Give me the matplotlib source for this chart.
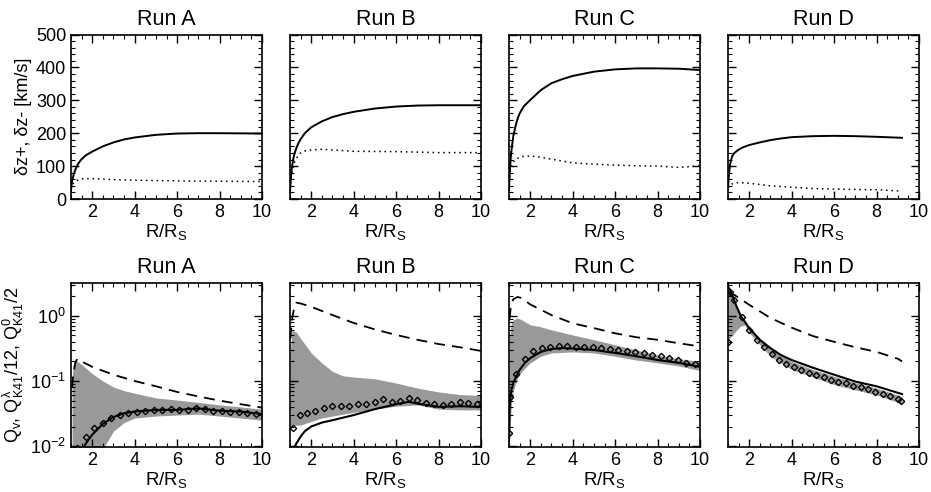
import matplotlib
matplotlib.use('Agg')
import matplotlib.pyplot as plt
from matplotlib.ticker import MultipleLocator, LogLocator, NullFormatter, LogFormatterMathtext

plt.rcParams.update({
    'font.family': ['Liberation Sans', 'DejaVu Sans'],
    'mathtext.fontset': 'custom',
    'mathtext.rm': 'Liberation Sans',
    'mathtext.it': 'Liberation Sans',
    'mathtext.bf': 'Liberation Sans:bold',
    'mathtext.default': 'regular',
    'axes.linewidth': 1.2,
})

RUNS = ['Run A', 'Run B', 'Run C', 'Run D']

# ---- top row: dz+ (solid) and dz- (dotted), km/s ----
A_zp_x = [1.0, 1.02, 1.05, 1.1, 1.15, 1.2, 1.3, 1.4, 1.5, 1.7, 2, 2.5, 3, 3.5, 4, 5, 6, 7, 8, 10]
A_zp_y = [25, 40, 55, 68, 80, 88, 103, 113, 121, 133, 144, 160, 172, 181, 187, 195, 199, 200, 200, 199]
A_zm_x = [1.0, 1.05, 1.1, 1.2, 1.3, 1.5, 1.7, 2, 3, 4, 6, 8, 10]
A_zm_y = [30, 40, 47, 53, 57, 61, 62, 62, 59, 57, 55, 54, 53]

B_zp_x = [1.0, 1.02, 1.05, 1.1, 1.15, 1.2, 1.3, 1.4, 1.5, 1.7, 2, 2.5, 3, 3.5, 4, 5, 6, 7, 8, 10]
B_zp_y = [20, 45, 70, 100, 120, 135, 155, 170, 182, 200, 218, 236, 249, 258, 265, 275, 281, 284, 285, 285]
B_zm_x = [1.0, 1.05, 1.1, 1.2, 1.3, 1.5, 1.7, 2, 2.5, 3, 4, 6, 8, 10]
B_zm_y = [30, 60, 85, 109, 124, 140, 146, 149, 151, 149, 145, 144, 141, 141]

C_zp_x = [1.0, 1.02, 1.05, 1.1, 1.15, 1.2, 1.3, 1.4, 1.5, 1.7, 2, 2.5, 3, 3.5, 4, 5, 6, 7, 8, 9, 10]
C_zp_y = [27, 60, 98, 139, 165, 190, 220, 243, 260, 282, 301, 331, 352, 364, 374, 387, 394, 397, 397, 396, 392]
C_zm_x = [1.0, 1.05, 1.1, 1.2, 1.3, 1.6, 2, 2.5, 3, 4, 5, 6, 7, 8, 9, 10]
C_zm_y = [50, 80, 98, 112, 121, 129, 131, 127, 121, 110, 106, 103, 101, 100, 96, 101]

D_zp_x = [1.0, 1.02, 1.05, 1.1, 1.15, 1.2, 1.3, 1.5, 1.7, 2, 2.5, 3, 3.5, 4, 5, 6, 7, 8, 9.2]
D_zp_y = [30, 55, 78, 105, 120, 130, 140, 150, 157, 164, 172, 179, 184, 188, 191, 192, 191, 189, 186]
D_zm_x = [1.0, 1.1, 1.2, 1.5, 2, 3, 4, 5, 6, 7, 8, 9.2]
D_zm_y = [33, 42, 46, 50, 48, 40, 36, 32, 30, 29, 28, 24]

# ---- bottom row: Q_v (solid), Q_K41 (diamonds, dashed), spread (gray band) ----
A_dash_x = [1.05, 1.1, 1.2, 1.3, 1.5, 2, 3, 4, 5, 6, 7, 8, 9, 10]
A_dash_y = [0.08, 0.12, 0.19, 0.22, 0.20, 0.165, 0.125, 0.10, 0.083, 0.068, 0.058, 0.050, 0.044, 0.039]
A_band_x = [1.05, 1.1, 1.2, 1.3, 1.5, 2, 2.5, 3, 3.5, 4, 5, 6, 7, 8, 9, 10]
A_band_hi = [0.10, 0.17, 0.21, 0.20, 0.18, 0.13, 0.10, 0.081, 0.071, 0.065, 0.055, 0.051, 0.047, 0.043, 0.040, 0.037]
A_band_lo = [0.005, 0.005, 0.005, 0.005, 0.005, 0.005, 0.009, 0.017, 0.023, 0.027, 0.029, 0.030, 0.031, 0.029, 0.027, 0.025]
A_sol_x = [1.55, 1.7, 2, 2.5, 3, 3.5, 4, 5, 6, 7, 8, 9, 10]
A_sol_y = [0.009, 0.011, 0.015, 0.022, 0.028, 0.032, 0.034, 0.036, 0.036, 0.038, 0.035, 0.034, 0.031]
A_dia_x = [1.3, 1.7, 2.1, 2.5, 2.9, 3.3, 3.7, 4.1, 4.5, 4.9, 5.3, 5.7, 6.1, 6.5, 6.9, 7.3, 7.7, 8.1, 8.5, 8.9, 9.3, 9.7]
A_dia_y = [0.0095, 0.014, 0.019, 0.023, 0.027, 0.030, 0.032, 0.034, 0.035, 0.036, 0.036, 0.037, 0.036, 0.036, 0.038, 0.037, 0.035, 0.035, 0.034, 0.034, 0.032, 0.031]

B_dash_x = [1.02, 1.1, 1.2, 1.3, 1.5, 2, 3, 4, 5, 6, 7, 8, 9, 10]
B_dash_y = [0.45, 0.9, 1.35, 1.6, 1.55, 1.38, 1.03, 0.78, 0.62, 0.51, 0.43, 0.37, 0.33, 0.29]
B_band_x = [1.02, 1.1, 1.3, 1.5, 2, 2.5, 3, 3.5, 4, 5, 6, 7, 8, 9, 10]
B_band_hi = [0.3, 0.6, 0.56, 0.45, 0.27, 0.19, 0.14, 0.12, 0.115, 0.108, 0.093, 0.078, 0.068, 0.062, 0.060]
B_band_lo = [0.02, 0.021, 0.021, 0.021, 0.024, 0.027, 0.029, 0.031, 0.033, 0.037, 0.041, 0.043, 0.037, 0.036, 0.036]
B_sol_x = [1.2, 1.3, 1.5, 1.7, 2, 2.5, 3, 4, 5, 6, 6.6, 7, 8, 9, 10]
B_sol_y = [0.0095, 0.011, 0.014, 0.017, 0.020, 0.023, 0.025, 0.030, 0.037, 0.044, 0.048, 0.045, 0.040, 0.041, 0.040]
B_dia_x = [1.15, 1.45, 1.8, 2.2, 2.6, 3.0, 3.4, 3.8, 4.2, 4.6, 5.0, 5.4, 5.8, 6.2, 6.6, 7.0, 7.4, 7.8, 8.2, 8.6, 9.0, 9.4, 9.8]
B_dia_y = [0.019, 0.030, 0.032, 0.035, 0.038, 0.041, 0.041, 0.042, 0.044, 0.044, 0.048, 0.053, 0.048, 0.050, 0.055, 0.051, 0.046, 0.044, 0.043, 0.044, 0.047, 0.046, 0.044]

C_dash_x = [1.02, 1.1, 1.2, 1.4, 1.6, 2, 3, 4, 5, 6, 7, 8, 9, 10]
C_dash_y = [0.9, 1.5, 1.8, 1.95, 1.88, 1.5, 1.03, 0.77, 0.65, 0.54, 0.47, 0.43, 0.38, 0.34]
C_band_x = [1.02, 1.1, 1.2, 1.4, 1.6, 2, 2.5, 3, 4, 5, 6, 7, 8, 9, 10]
C_band_hi = [0.45, 0.75, 0.87, 0.93, 0.87, 0.73, 0.68, 0.61, 0.51, 0.43, 0.36, 0.30, 0.25, 0.22, 0.20]
C_band_lo = [0.012, 0.04, 0.07, 0.11, 0.14, 0.19, 0.24, 0.27, 0.28, 0.27, 0.24, 0.21, 0.19, 0.17, 0.145]
C_sol_x = [1.0, 1.03, 1.05, 1.1, 1.2, 1.35, 1.5, 1.75, 2, 2.5, 3, 3.5, 4, 5, 6, 7, 8, 9, 10]
C_sol_y = [0.012, 0.035, 0.05, 0.07, 0.093, 0.12, 0.148, 0.19, 0.225, 0.28, 0.31, 0.32, 0.315, 0.30, 0.27, 0.24, 0.21, 0.19, 0.165]
C_dia_x = [1.0, 1.05, 1.35, 1.75, 2.15, 2.55, 2.95, 3.35, 3.75, 4.15, 4.55, 4.95, 5.35, 5.75, 6.15, 6.55, 6.95, 7.35, 7.75, 8.15, 8.55, 8.95, 9.35, 9.75]
C_dia_y = [0.016, 0.057, 0.13, 0.22, 0.29, 0.32, 0.33, 0.34, 0.345, 0.33, 0.33, 0.33, 0.32, 0.31, 0.30, 0.29, 0.28, 0.265, 0.25, 0.24, 0.225, 0.21, 0.19, 0.18]

D_dash_x = [1.02, 1.3, 2, 3, 4, 5, 6, 7, 8, 9, 9.2]
D_dash_y = [2.3, 2.1, 1.48, 0.93, 0.66, 0.49, 0.40, 0.33, 0.28, 0.22, 0.20]
D_band_x = [1.0, 1.2, 1.4, 1.6, 1.8, 2, 2.5, 3, 4, 5, 6, 7, 8, 9.2]
D_band_hi = [2.8, 2.2, 1.5, 1.05, 0.85, 0.66, 0.43, 0.31, 0.2, 0.15, 0.118, 0.094, 0.078, 0.058]
D_band_lo = [0.42, 0.5, 0.6, 0.7, 0.72, 0.55, 0.36, 0.24, 0.15, 0.115, 0.088, 0.073, 0.061, 0.045]
D_sol_x = [1.0, 1.1, 1.2, 1.4, 1.6, 2, 2.5, 3, 3.5, 4, 5, 6, 7, 8, 9.2]
D_sol_y = [2.8, 2.5, 2.1, 1.4, 1.0, 0.65, 0.43, 0.32, 0.25, 0.21, 0.16, 0.125, 0.098, 0.083, 0.063]
D_dia_x = [1.0, 1.1, 1.3, 1.65, 2.0, 2.35, 2.7, 3.05, 3.4, 3.75, 4.1, 4.45, 4.8, 5.15, 5.5, 5.85, 6.2, 6.55, 6.9, 7.25, 7.6, 7.95, 8.3, 8.65, 9.0, 9.15]
D_dia_y = [0.40, 2.3, 1.75, 0.95, 0.6, 0.42, 0.33, 0.26, 0.21, 0.185, 0.165, 0.15, 0.135, 0.125, 0.115, 0.105, 0.098, 0.092, 0.085, 0.08, 0.075, 0.069, 0.064, 0.059, 0.053, 0.05]

TOP = [(A_zp_x, A_zp_y, A_zm_x, A_zm_y), (B_zp_x, B_zp_y, B_zm_x, B_zm_y),
       (C_zp_x, C_zp_y, C_zm_x, C_zm_y), (D_zp_x, D_zp_y, D_zm_x, D_zm_y)]
BOTTOM = [
    (A_dash_x, A_dash_y, A_band_x, A_band_hi, A_band_lo, A_sol_x, A_sol_y, A_dia_x, A_dia_y),
    (B_dash_x, B_dash_y, B_band_x, B_band_hi, B_band_lo, B_sol_x, B_sol_y, B_dia_x, B_dia_y),
    (C_dash_x, C_dash_y, C_band_x, C_band_hi, C_band_lo, C_sol_x, C_sol_y, C_dia_x, C_dia_y),
    (D_dash_x, D_dash_y, D_band_x, D_band_hi, D_band_lo, D_sol_x, D_sol_y, D_dia_x, D_dia_y),
]

W, H = 931, 492
fig = plt.figure(figsize=(W / 100, H / 100), dpi=100)
lefts = [71, 290, 509, 728]
aw = 191


def style_ticks(ax):
    ax.tick_params(which='both', direction='in', top=True, right=True, labelsize=13)
    ax.tick_params(which='major', length=6, width=1)
    ax.tick_params(which='minor', length=3, width=0.8)


for i, run in enumerate(RUNS):
    # top panel
    ax = fig.add_axes([lefts[i] / W, 1 - 199 / H, aw / W, 164.5 / H])
    zpx, zpy, zmx, zmy = TOP[i]
    ax.plot(zpx, zpy, color='k', lw=1.4)
    ax.plot(zmx, zmy, color='k', lw=1.1, linestyle=(0, (1, 2.5)))
    ax.set_xlim(1, 10)
    ax.set_ylim(0, 500)
    ax.set_xticks([2, 4, 6, 8, 10])
    ax.xaxis.set_minor_locator(MultipleLocator(0.5))
    ax.yaxis.set_major_locator(MultipleLocator(100))
    ax.yaxis.set_minor_locator(MultipleLocator(20))
    style_ticks(ax)
    ax.set_title(run, fontsize=15.5, pad=7)
    ax.set_xlabel('R/R$_S$', fontsize=13.5, labelpad=1)
    if i == 0:
        ax.set_ylabel('δz+, δz- [km/s]', fontsize=13, labelpad=3)
    else:
        ax.set_yticklabels([])

    # bottom panel
    ax = fig.add_axes([lefts[i] / W, 1 - 447 / H, aw / W, 164 / H])
    dx, dy, bx, bhi, blo, sx, sy, mx, my = BOTTOM[i]
    ax.fill_between(bx, blo, bhi, color='#999999', lw=0, zorder=1)
    ax.plot(dx, dy, color='k', lw=1.3, linestyle=(0, (6, 4)), zorder=2)
    ax.plot(sx, sy, color='k', lw=1.5, zorder=3)
    ax.plot(mx, my, linestyle='none', marker='D', markersize=3.2, mfc='none',
            mec='k', mew=1.0, zorder=4)
    ax.set_yscale('log')
    ax.set_xlim(1, 10)
    ax.set_ylim(0.0097, 3.2)
    ax.set_xticks([2, 4, 6, 8, 10])
    ax.xaxis.set_minor_locator(MultipleLocator(0.5))
    ax.yaxis.set_major_locator(LogLocator(base=10, numticks=10))
    ax.yaxis.set_minor_locator(LogLocator(base=10, subs=range(2, 10), numticks=20))
    ax.yaxis.set_minor_formatter(NullFormatter())
    style_ticks(ax)
    ax.set_title(run, fontsize=15.5, pad=7)
    ax.set_xlabel('R/R$_S$', fontsize=13.5, labelpad=1)
    if i == 0:
        ax.yaxis.set_major_formatter(LogFormatterMathtext())
        ax.set_ylabel('Q$_v$, Q$^λ_{K41}$/12, Q$^0_{K41}$/2', fontsize=13, labelpad=3)
    else:
        ax.set_yticklabels([])

fig.savefig('out.png', dpi=100)
